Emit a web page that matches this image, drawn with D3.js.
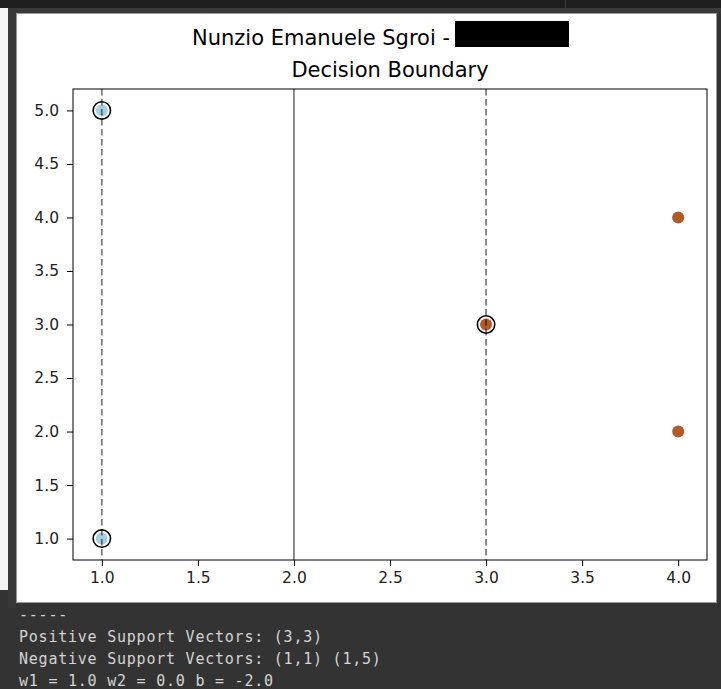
<!DOCTYPE html>
<html>
<head>
<meta charset="utf-8">
<script src="https://cdn.jsdelivr.net/npm/d3@7"></script>
<style>
  html, body { margin: 0; padding: 0; background: #333333; }
  svg { display: block; }
</style>
</head>
<body>
<div id="chart"></div>
<script>
// data
const negPoints = [[1, 1], [1, 5]];
const posPoints = [[3, 3], [4, 4], [4, 2]];
const supportVectors = [[1, 1], [1, 5], [3, 3]];
const boundaryX = 2;
const marginLinesX = [1, 3];
const xTicks = [1.0, 1.5, 2.0, 2.5, 3.0, 3.5, 4.0];
const yTicks = [1.0, 1.5, 2.0, 2.5, 3.0, 3.5, 4.0, 4.5, 5.0];
const titleLines = ['Nunzio Emanuele Sgroi - ', 'Decision Boundary'];
const outputLines = [
  '-----',
  'Positive Support Vectors: (3,3)',
  'Negative Support Vectors: (1,1) (1,5)',
  'w1 = 1.0 w2 = 0.0 b = -2.0'
];

const W = 721, H = 689;
const plot = { left: 73, right: 707, top: 89, bottom: 560 };

const svg = d3.select('#chart').append('svg')
  .attr('width', W)
  .attr('height', H);

// notebook chrome
svg.append('rect').attr('x', 0).attr('y', 0).attr('width', W).attr('height', H).attr('fill', '#333333');
svg.append('rect').attr('x', 0).attr('y', 0).attr('width', W).attr('height', 8).attr('fill', '#1e1e1e');
svg.append('rect').attr('x', 0).attr('y', 8).attr('width', W).attr('height', 6).attr('fill', '#3a3a3a');
svg.append('line').attr('x1', 565.5).attr('x2', 565.5).attr('y1', 0).attr('y2', 8).attr('stroke', '#3c3c3c');
svg.append('rect').attr('x', 0).attr('y', 8).attr('width', 8).attr('height', 582).attr('fill', '#f4f4f4');
svg.append('rect').attr('x', 8).attr('y', 8).attr('width', 8).attr('height', 600).attr('fill', '#383838');

// figure area
svg.append('rect')
  .attr('x', 16.5).attr('y', 13.5)
  .attr('width', 700).attr('height', 589)
  .attr('fill', '#ffffff')
  .attr('stroke', '#9a9a9a');

const x = d3.scaleLinear().domain([0.85, 4.15]).range([plot.left, plot.right]);
const y = d3.scaleLinear().domain([0.8, 5.2]).range([plot.bottom, plot.top]);

// title
const title = svg.append('g').attr('font-family', 'DejaVu Sans').attr('font-size', 21).attr('fill', '#000');
title.append('text').attr('x', 192).attr('y', 45).text(titleLines[0]);
title.append('rect').attr('x', 455).attr('y', 21).attr('width', 114).attr('height', 26).attr('fill', '#000');
title.append('text').attr('x', (plot.left + plot.right) / 2).attr('y', 77)
  .attr('text-anchor', 'middle').text(titleLines[1]);

// points
svg.append('g')
  .selectAll('circle')
  .data(negPoints)
  .join('circle')
  .attr('cx', d => x(d[0]))
  .attr('cy', d => y(d[1]))
  .attr('r', 6)
  .attr('fill', '#a6cee3');

svg.append('g')
  .selectAll('circle')
  .data(posPoints)
  .join('circle')
  .attr('cx', d => x(d[0]))
  .attr('cy', d => y(d[1]))
  .attr('r', 6)
  .attr('fill', '#b15928');

// decision boundary and margins
svg.append('line')
  .attr('x1', x(boundaryX)).attr('x2', x(boundaryX))
  .attr('y1', plot.top).attr('y2', plot.bottom)
  .attr('stroke', '#000').attr('stroke-opacity', 0.5).attr('stroke-width', 1.8);

svg.append('g')
  .selectAll('line')
  .data(marginLinesX)
  .join('line')
  .attr('x1', d => x(d)).attr('x2', d => x(d))
  .attr('y1', plot.top).attr('y2', plot.bottom)
  .attr('stroke', '#000').attr('stroke-opacity', 0.5).attr('stroke-width', 1.8)
  .attr('stroke-dasharray', '6.5,3.5');

// support vector rings
svg.append('g')
  .selectAll('circle')
  .data(supportVectors)
  .join('circle')
  .attr('cx', d => x(d[0]))
  .attr('cy', d => y(d[1]))
  .attr('r', 8.7)
  .attr('fill', 'none')
  .attr('stroke', '#000')
  .attr('stroke-width', 1.6);

// frame
svg.append('rect')
  .attr('x', plot.left).attr('y', plot.top)
  .attr('width', plot.right - plot.left).attr('height', plot.bottom - plot.top)
  .attr('fill', 'none').attr('stroke', '#000').attr('stroke-width', 1);

// axes
const xAxis = svg.append('g')
  .attr('transform', `translate(0,${plot.bottom})`)
  .call(d3.axisBottom(x).tickValues(xTicks).tickFormat(d3.format('.1f')).tickSize(6).tickPadding(6));
const yAxis = svg.append('g')
  .attr('transform', `translate(${plot.left},0)`)
  .call(d3.axisLeft(y).tickValues(yTicks).tickFormat(d3.format('.1f')).tickSize(6).tickPadding(8));

[xAxis, yAxis].forEach(a => {
  a.select('.domain').remove();
  a.selectAll('text').attr('font-family', 'DejaVu Sans').attr('font-size', 15.5).attr('fill', '#222');
  a.selectAll('line').attr('stroke', '#000');
});

// printed output below the figure
svg.append('g')
  .attr('font-family', 'DejaVu Sans Mono')
  .attr('font-size', 15)
  .attr('letter-spacing', 0.77)
  .attr('fill', '#d4d4d4')
  .selectAll('text')
  .data(outputLines)
  .join('text')
  .attr('x', 19)
  .attr('y', (d, i) => 619.5 + i * 22.3)
  .text(d => d);
</script>
</body>
</html>
